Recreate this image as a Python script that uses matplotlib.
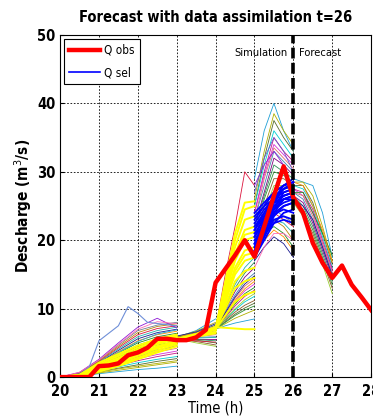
"""
Ensemble discharge forecast with data assimilation at t=26 h
"""

import matplotlib as mpl
mpl.use("Agg")
import matplotlib.pyplot as plt
from matplotlib.lines import Line2D

plt.rcParams["font.family"] = ["DejaVu Sans"]
plt.rcParams["font.stretch"] = "condensed"

# observed discharge (m3/s), every 15 min
t_obs = [20, 20.25, 20.5, 20.75, 21, 21.25, 21.5, 21.75, 22, 22.25, 22.5, 22.75, 23,
         23.25, 23.5, 23.75, 24, 24.25, 24.5, 24.75, 25, 25.25, 25.5, 25.75, 26,
         26.25, 26.5, 26.75, 27, 27.25, 27.5, 27.75, 28]
q_obs = [0, 0, 0, 0, 1.6, 1.7, 2.0, 3.2, 3.6, 4.3, 5.6, 5.6, 5.4,
         5.4, 5.8, 6.9, 13.8, 15.8, 17.8, 20.0, 17.6, 22.0, 26.5, 30.8, 26.2,
         24.0, 19.6, 16.7, 14.5, 16.3, 13.5, 11.7, 9.8]

# window 1: 20 h -> 23 h
t1 = [20, 20.5, 21, 21.5, 22, 22.5, 23]
sim1 = [
    [0, 0.1, 0.5, 0.8, 1.1, 1.3, 1.6],
    [0, 0.1, 0.6, 1.0, 1.4, 1.8, 2.2],
    [0, 0.2, 0.8, 1.3, 1.8, 2.3, 2.7],
    [0, 0.2, 0.9, 1.5, 2.1, 2.6, 3.0],
    [0, 0.2, 1.0, 1.7, 2.4, 3.0, 3.5],
    [0, 0.3, 1.1, 1.9, 2.7, 3.3, 3.8],
    [0, 0.3, 1.2, 2.1, 3.0, 3.7, 4.2],
    [0, 0.3, 1.3, 2.3, 3.3, 4.0, 4.5],
    [0, 0.3, 1.4, 2.5, 3.6, 4.3, 4.9],
    [0, 0.4, 1.5, 2.7, 3.9, 4.7, 5.2],
    [0, 0.4, 1.6, 2.9, 4.2, 5.0, 5.5],
    [0, 0.4, 1.7, 3.1, 4.5, 5.3, 5.8],
    [0, 0.4, 1.8, 3.3, 4.7, 5.6, 6.1],
    [0, 0.5, 1.9, 3.5, 5.0, 5.9, 6.4],
    [0, 0.5, 2.0, 3.7, 5.3, 6.2, 6.7],
    [0, 0.5, 2.1, 3.9, 5.6, 6.5, 7.0],
    [0, 0.5, 2.2, 4.1, 5.9, 6.8, 7.3],
    [0, 0.6, 2.3, 4.3, 6.2, 7.1, 7.5],
    [0, 0.6, 2.4, 4.5, 6.5, 7.4, 7.8],
    [0, 0.6, 2.5, 4.7, 6.8, 7.6, 8.0],
    [0, 0.7, 2.6, 5.0, 7.3, 8.6, 7.2],
    [0, 0.7, 2.5, 4.8, 7.0, 8.1, 7.8],
    [0, 0.2, 1.0, 2.0, 3.0, 3.9, 4.6],
    [0, 0.3, 1.4, 2.6, 3.8, 4.9, 5.6],
    [0, 0.4, 1.9, 3.6, 5.2, 6.3, 6.9],
    [0, 0.1, 0.7, 1.2, 1.6, 2.0, 2.4],
]
t1_out = [20, 20.5, 20.75, 21, 21.5, 21.75, 22, 22.25, 23]
q1_out = [0, 0.3, 1.5, 5.3, 7.5, 10.3, 9.3, 8.0, 7.5]
sel1 = [
    [0, 0.1, 0.8, 1.6, 2.6, 3.6, 4.5],
    [0, 0.1, 0.9, 1.8, 2.8, 3.9, 4.8],
    [0, 0.2, 1.1, 2.0, 3.1, 4.2, 5.0],
    [0, 0.2, 1.3, 2.2, 3.4, 4.5, 5.3],
    [0, 0.2, 1.5, 2.5, 3.7, 4.8, 5.6],
    [0, 0.3, 1.7, 2.8, 4.0, 5.1, 5.8],
    [0, 0.3, 1.9, 3.1, 4.3, 5.4, 6.0],
    [0, 0.3, 2.1, 3.4, 4.6, 5.6, 6.2],
    [0, 0.2, 1.2, 2.1, 3.2, 4.3, 5.1],
    [0, 0.3, 1.6, 2.6, 3.9, 5.0, 5.7],
]

# window 2: 23 h -> 24 h
t2 = [23, 23.5, 24]
sim2 = [
    [5.8, 6.8, 8.5], [5.9, 6.7, 8.0], [5.8, 6.5, 7.6], [5.7, 6.3, 7.2],
    [5.6, 6.1, 6.8], [5.7, 6.0, 6.5], [5.6, 5.9, 6.2], [5.7, 5.8, 5.9],
    [5.6, 5.6, 5.6], [5.5, 5.5, 5.3], [5.6, 5.4, 5.0], [5.5, 5.2, 4.7],
    [5.6, 5.0, 4.5], [5.8, 6.2, 7.0], [5.9, 6.4, 7.4], [6.0, 6.6, 7.8],
    [5.7, 5.7, 5.8], [5.5, 5.3, 5.1],
]
sel2 = [[5.5, 6.0, 6.6], [5.5, 6.1, 6.9], [5.6, 6.2, 7.1], [5.4, 5.9, 6.4], [5.6, 6.3, 7.3]]

# window 3: 24 h -> 25 h
t3 = [24, 24.25, 24.5, 24.75, 25]
sim3 = [
    [7.0, 7.5, 7.9, 8.2, 8.5], [7.0, 7.8, 8.6, 9.2, 9.8], [7.1, 8.1, 9.2, 10.1, 10.8],
    [7.0, 8.4, 9.8, 11.0, 11.8], [7.1, 8.7, 10.4, 11.8, 12.7], [7.0, 9.0, 11.0, 12.6, 13.6],
    [7.2, 9.3, 11.5, 13.3, 14.4], [7.0, 9.6, 12.0, 14.0, 15.2], [7.1, 9.9, 12.5, 14.6, 16.0],
    [7.0, 10.2, 13.0, 15.2, 16.8], [7.0, 8.0, 9.0, 9.8, 10.4], [7.2, 8.3, 9.5, 10.5, 11.2],
    [6.9, 8.5, 10.0, 11.3, 12.2], [7.0, 8.9, 10.7, 12.2, 13.1], [7.1, 9.1, 11.2, 12.9, 14.0],
    [7.0, 9.4, 11.7, 13.6, 14.8], [7.0, 10.5, 13.5, 16.0, 17.5], [7.0, 15.0, 22.0, 30.0, 28.0],
]
sel3 = [
    [7.0, 10.5, 14.0, 15.5, 16.0], [7.0, 11.0, 15.0, 17.0, 17.5], [7.1, 11.5, 16.0, 18.5, 19.0],
    [7.0, 12.0, 17.0, 20.0, 20.5], [7.0, 12.5, 18.0, 21.5, 22.0], [7.0, 13.0, 19.0, 23.0, 23.5],
    [7.0, 13.5, 20.0, 24.5, 25.0], [7.0, 14.0, 21.0, 25.5, 25.7], [7.0, 10.0, 13.0, 14.0, 14.5],
    [7.0, 9.0, 11.0, 12.0, 12.5], [7.3, 7.2, 7.1, 7.0, 7.0], [7.0, 11.2, 15.5, 17.8, 18.2],
    [7.0, 12.2, 17.5, 20.8, 21.2],
]

# window 4: 25 h -> 26 h
t4 = [25, 25.25, 25.5, 25.75, 26]
sim4 = [
    [29, 36, 40, 36, 33], [26, 33, 38.5, 36, 34], [25, 32, 37.5, 35, 33], [25, 31, 36, 34, 32],
    [24, 30, 35, 33, 31.5], [24, 29.5, 34, 32.5, 31], [23, 29, 33.5, 32, 30.5], [23, 28, 33, 31.5, 30],
    [22, 27, 32, 31, 29.5], [22, 26.5, 31, 30, 29], [21, 26, 30, 29.5, 28.5], [20, 25, 29, 29, 28],
    [20, 24, 28, 28, 27.5], [19, 21, 22, 21, 19], [18, 20, 21.5, 20.5, 18.5], [17, 19, 20.5, 19.5, 17.5],
    [20, 22, 23, 22.5, 21], [21, 23, 24, 23, 22], [19, 21.5, 23, 22, 20], [22, 23.5, 24.5, 23.5, 22.5],
    [28, 31, 33, 31, 27], [16, 19, 21, 21, 20], [27, 32, 35, 33, 30],
]
sel4 = [
    [17.5, 20, 22.5, 24, 24.5], [18, 21, 24, 26, 26.5], [18.5, 21.5, 24.5, 27, 27.5],
    [19, 22.5, 25.5, 27.5, 28.5], [19.5, 23, 26, 28, 29], [20, 22, 24, 25, 25.5],
    [20.5, 23.5, 26, 27, 27.5], [21, 23, 25, 26, 26.5], [21.5, 24, 26.5, 27.5, 28],
    [22, 24, 25.5, 26, 26], [22.5, 24.5, 26, 27.5, 28], [23, 25, 27, 28, 28.5],
    [23.5, 25, 26, 26.5, 27], [24, 25.5, 27, 28, 28.5], [18, 20.5, 23, 23.5, 23],
    [19, 21, 22.5, 23, 22.5], [17.8, 20.5, 23.5, 25, 25.5], [18.5, 22, 25, 26.5, 27],
    [19.5, 22, 24.5, 26, 26.5], [20.5, 22.5, 24.5, 25.5, 26], [21.5, 23.5, 25.5, 26.5, 27],
    [18.2, 21, 23.8, 24.5, 24],
]

# forecast: 26 h -> 27 h
t5 = [26, 26.25, 26.5, 26.75, 27]
sim5 = [
    [29, 28.5, 28, 24, 17.5], [28.5, 28.5, 26.5, 22, 17], [28, 28, 25.5, 21, 16.5],
    [28, 27.5, 25, 20.5, 16], [27.5, 27, 24.5, 20, 15.8], [27.5, 26.5, 24, 19.5, 15.5],
    [27, 26.5, 23.5, 19.5, 15.2], [27, 26, 23, 19, 15], [26.5, 25.5, 22.5, 18.5, 14.5],
    [26.5, 25, 22, 18, 14], [26, 24.5, 21.5, 17.5, 13.5], [26, 24, 21, 17, 13],
    [25.5, 23.5, 20.5, 16.5, 12.2], [27, 27, 24, 21, 17.8], [28.5, 28, 25, 21.5, 16.8],
    [26, 25, 23, 19, 14.8],
]

member_colors = ["#1f9fd6", "#d62fd6", "#2f8f2f", "#1a1a8f", "#8f1ad6", "#b0b000",
                 "#e07070", "#8b5a2b", "#20b2aa", "#ff69b4", "#556b2f", "#4682b4",
                 "#9acd32", "#dc143c", "#6a5acd", "#00ced1", "#800080", "#228b22",
                 "#b8860b", "#000080", "#c71585", "#2e8b57", "#ff8c00", "#708090"]

fig = plt.figure(figsize=(3.73, 4.19), dpi=100)
ax = fig.add_axes([0.161, 0.1, 0.834, 0.8165])

for t, members in [(t1, sim1), (t2, sim2), (t3, sim3), (t4, sim4), (t5, sim5)]:
    for i, q in enumerate(members):
        ax.plot(t, q, color=member_colors[(i * 5) % len(member_colors)], lw=0.6)
ax.plot(t1_out, q1_out, color="#6f8fd8", lw=0.8)

for t, members in [(t1, sel1), (t2, sel2), (t3, sel3)]:
    for q in members:
        ax.plot(t, q, color="#ffff00", lw=1.4)
for q in sel4:
    ax.plot(t4, q, color="#0000ff", lw=1.3)

ax.plot(t_obs, q_obs, color="#ff0000", lw=3.2, zorder=5)
ax.axvline(26, color="black", lw=2.6, linestyle=(0, (3, 1.2)), zorder=6)

ax.text(25.85, 47.4, "Simulation", ha="right", va="center", fontsize=8)
ax.text(26.15, 47.4, "Forecast", ha="left", va="center", fontsize=8)

ax.set_xlim(20, 28)
ax.set_ylim(0, 50)
ax.set_xticks(range(20, 29))
ax.set_yticks(range(0, 51, 10))
ax.grid(True, color="black", linestyle=(0, (2, 2)), lw=0.6)
ax.tick_params(direction="in", labelsize=10.5, length=3)
ax.tick_params(axis="x", pad=5)
for lab in ax.get_xticklabels() + ax.get_yticklabels():
    lab.set_fontweight("bold")

ax.set_xlabel("Time (h)", fontsize=10.5, labelpad=1)
ax.set_ylabel("Descharge (m$^3$/s)", fontsize=11, fontweight="bold", labelpad=2)
ax.set_title("Forecast with data assimilation t=26", fontsize=10.5, fontweight="bold", pad=9)

handles = [Line2D([], [], color="#ff0000", lw=3.2), Line2D([], [], color="#0000ff", lw=1.2)]
leg = ax.legend(handles, ["Q obs", "Q sel"], loc="upper left", fancybox=False,
                edgecolor="black", framealpha=1, fontsize=8.5, handlelength=2.6,
                borderaxespad=0.35, handletextpad=0.4, labelspacing=0.8)
leg.get_frame().set_linewidth(0.8)

fig.savefig("out.png", dpi=100)
